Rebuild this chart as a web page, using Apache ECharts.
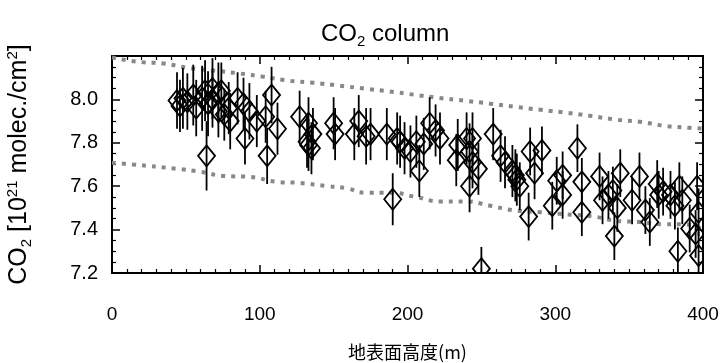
<!DOCTYPE html>
<html>
<head>
<meta charset="utf-8">
<script src="https://cdn.jsdelivr.net/npm/echarts@6/dist/echarts.min.js"></script>
<style>
  html, body { margin: 0; padding: 0; background: #fff; }
  #main { width: 723px; height: 363px; }
</style>
</head>
<body>
<div id="main"></div>
<script>
// surface height (m), CO2 column (1e21 molec/cm2) and error half-width
const heights = [44, 46, 48, 51, 55, 57, 61, 63, 65, 68, 68, 64, 72, 74, 72, 76, 80, 79, 85, 89,
  90, 93, 98, 104, 105, 108, 112, 127, 133, 132, 136, 133, 135, 150, 151, 164, 167, 172, 175, 186,
  190, 193, 195, 198, 202, 206, 208, 211, 215, 219, 222, 233, 234, 240, 242, 244, 244, 242, 248, 250,
  258, 263, 266, 271, 274, 273, 276, 282, 283, 286, 291, 298, 301, 305, 305, 315, 318, 318, 330, 332,
  336, 339, 340, 344, 342, 352, 357, 361, 364, 369, 370, 373, 378, 381, 384, 386, 383, 391, 395, 396,
  397, 397]
const co2 = [7.995, 7.97, 8.005, 7.99, 8.02, 7.96, 8.005, 8.04, 7.98, 8.05, 8.0, 7.74, 8.03, 8.04, 7.945, 7.93, 7.90, 7.96, 8.005, 7.98,
  7.82, 7.945, 7.90, 7.92, 7.74, 8.02, 7.865, 7.92, 7.89, 7.805, 7.84, 7.79, 7.775, 7.89, 7.84, 7.84, 7.90, 7.83, 7.84, 7.84,
  7.54, 7.82, 7.805, 7.775, 7.76, 7.805, 7.67, 7.795, 7.89, 7.857, 7.82, 7.72, 7.79, 7.82, 7.76, 7.82, 7.71, 7.60, 7.68, 7.22,
  7.84, 7.74, 7.71, 7.67, 7.63, 7.65, 7.60, 7.46, 7.76, 7.66, 7.765, 7.51, 7.625, 7.65, 7.56, 7.775, 7.62, 7.48, 7.645, 7.535,
  7.56, 7.58, 7.37, 7.66, 7.50, 7.535, 7.645, 7.49, 7.435, 7.61, 7.56, 7.575, 7.56, 7.51, 7.60, 7.535, 7.30, 7.405, 7.38, 7.60,
  7.48, 7.28]
const errs = [0.13, 0.12, 0.14, 0.13, 0.14, 0.13, 0.15, 0.14, 0.15, 0.14, 0.13, 0.16, 0.14, 0.13, 0.12, 0.12, 0.13, 0.12, 0.12, 0.12,
  0.12, 0.13, 0.12, 0.12, 0.13, 0.13, 0.12, 0.12, 0.12, 0.12, 0.12, 0.12, 0.12, 0.12, 0.12, 0.12, 0.12, 0.13, 0.12, 0.12,
  0.12, 0.12, 0.12, 0.12, 0.12, 0.12, 0.12, 0.12, 0.12, 0.12, 0.12, 0.12, 0.12, 0.12, 0.13, 0.12, 0.12, 0.12, 0.12, 0.10,
  0.12, 0.12, 0.12, 0.12, 0.12, 0.12, 0.11, 0.11, 0.11, 0.12, 0.11, 0.11, 0.11, 0.11, 0.11, 0.11, 0.11, 0.11, 0.11, 0.11,
  0.11, 0.11, 0.11, 0.11, 0.11, 0.11, 0.11, 0.11, 0.11, 0.11, 0.11, 0.11, 0.11, 0.11, 0.11, 0.11, 0.11, 0.11, 0.11, 0.11,
  0.11, 0.11]

// dotted envelope curves
const upperX = [0, 17, 35, 51, 69, 87, 102, 120, 136, 154, 171, 188, 204, 220, 239, 256, 273, 290, 308, 323, 342, 357, 374, 391, 400]
const upperY = [8.193, 8.174, 8.165, 8.146, 8.133, 8.119, 8.105, 8.086, 8.077, 8.063, 8.05, 8.036, 8.022, 8.008, 7.994, 7.98, 7.966, 7.952, 7.938, 7.925, 7.906, 7.897, 7.878, 7.869, 7.865]
const lowerX = [0, 14, 44, 60, 76, 93, 112, 127, 146, 159, 171, 188, 206, 222, 239, 256, 271, 290, 308, 326, 342, 357, 373, 386, 400]
const lowerY = [7.708, 7.70, 7.68, 7.666, 7.647, 7.643, 7.62, 7.615, 7.60, 7.59, 7.57, 7.57, 7.55, 7.53, 7.53, 7.51, 7.49, 7.48, 7.47, 7.46, 7.44, 7.435, 7.425, 7.425, 7.40]

const font = "'Liberation Sans', Arial, sans-serif"
const points = heights.map((h, i) => [h, co2[i], errs[i]])
const zip = (xs, ys) => xs.map((x, i) => [x, ys[i]])

const tickStyle = { color: '#000', width: 1.5 }
function xAx(pos, labels) {
  return {
    type: 'value', position: pos, min: 0, max: 400, interval: 100,
    axisLine: { show: true, onZero: false, lineStyle: { color: '#000', width: 2 } },
    axisTick: { show: true, inside: true, length: 8, lineStyle: tickStyle },
    minorTick: { show: true, splitNumber: 10, length: 4, lineStyle: { color: '#000', width: 1.2 } },
    splitLine: { show: false },
    axisLabel: { show: labels, margin: 32, color: '#000', fontSize: 19, fontFamily: font },
  }
}
function yAx(pos, labels) {
  return {
    type: 'value', position: pos, min: 7.2, max: 8.2, interval: 0.2,
    axisLine: { show: true, onZero: false, lineStyle: { color: '#000', width: 2 } },
    axisTick: { show: true, inside: true, length: 8, lineStyle: tickStyle },
    minorTick: { show: true, splitNumber: 4, length: 4, lineStyle: { color: '#000', width: 1.2 } },
    splitLine: { show: false },
    axisLabel: {
      show: labels, margin: 14, color: '#000', fontSize: 20, fontFamily: font,
      formatter: v => (v > 8.1 ? '' : v.toFixed(1))
    },
  }
}

const xMain = xAx('bottom', true)
xMain.name = '地表面高度(m)'
xMain.nameLocation = 'middle'
xMain.nameGap = 70
xMain.nameTextStyle = { color: '#000', fontSize: 18, fontFamily: "'Noto Sans CJK JP', sans-serif" }

const yMain = yAx('left', true)
yMain.name = 'CO{sub|2} [10{sup|21} molec./cm{sup|2}]'
yMain.nameLocation = 'middle'
yMain.nameGap = 78
yMain.nameTextStyle = {
  color: '#000', fontSize: 25, fontFamily: font,
  rich: {
    sub: { fontSize: 15, fontFamily: font, color: '#000', padding: [14, 0, 0, 0] },
    sup: { fontSize: 15, fontFamily: font, color: '#000', padding: [0, 0, 14, 0] }
  }
}

const dotted = { color: '#888', width: 4, type: [4, 6], cap: 'butt' }

const option = {
  animation: false,
  backgroundColor: '#fff',
  title: {
    text: 'CO{sub|2} column',
    left: 316, top: 14,
    textStyle: {
      color: '#000', fontSize: 24, fontWeight: 'normal', fontFamily: font,
      rich: {
        sub: { fontSize: 15, fontFamily: font, color: '#000', padding: [15, 0, 0, 0] }
      }
    }
  },
  grid: { left: 112, right: 20, top: 56, bottom: 90, outerBoundsMode: 'none' },
  xAxis: [xMain, xAx('top', false)],
  yAxis: [yMain, yAx('right', false)],
  series: [
    {
      type: 'line', data: zip(upperX, upperY), smooth: true, showSymbol: false,
      lineStyle: dotted, silent: true, z: 1
    },
    {
      type: 'line', data: zip(lowerX, lowerY), smooth: true, showSymbol: false,
      lineStyle: dotted, silent: true, z: 1
    },
    {
      type: 'custom',
      clip: true,
      z: 2,
      data: points,
      encode: { x: 0, y: 1 },
      renderItem: function (params, api) {
        const x = api.value(0), y = api.value(1), e = api.value(2)
        const c = api.coord([x, y])
        const t = api.coord([x, y + e])
        const b = api.coord([x, y - e])
        return {
          type: 'group',
          children: [
            { type: 'line', shape: { x1: t[0], y1: t[1], x2: b[0], y2: b[1] },
              style: { stroke: '#000', lineWidth: 1.8 } },
            { type: 'polygon',
              shape: { points: [[c[0], c[1] - 10.5], [c[0] + 8.5, c[1]], [c[0], c[1] + 10.5], [c[0] - 8.5, c[1]]] },
              style: { fill: 'none', stroke: '#000', lineWidth: 1.8 } }
          ]
        }
      }
    }
  ]
}

const myChart = echarts.init(document.getElementById('main'))
myChart.setOption(option)
</script>
</body>
</html>
